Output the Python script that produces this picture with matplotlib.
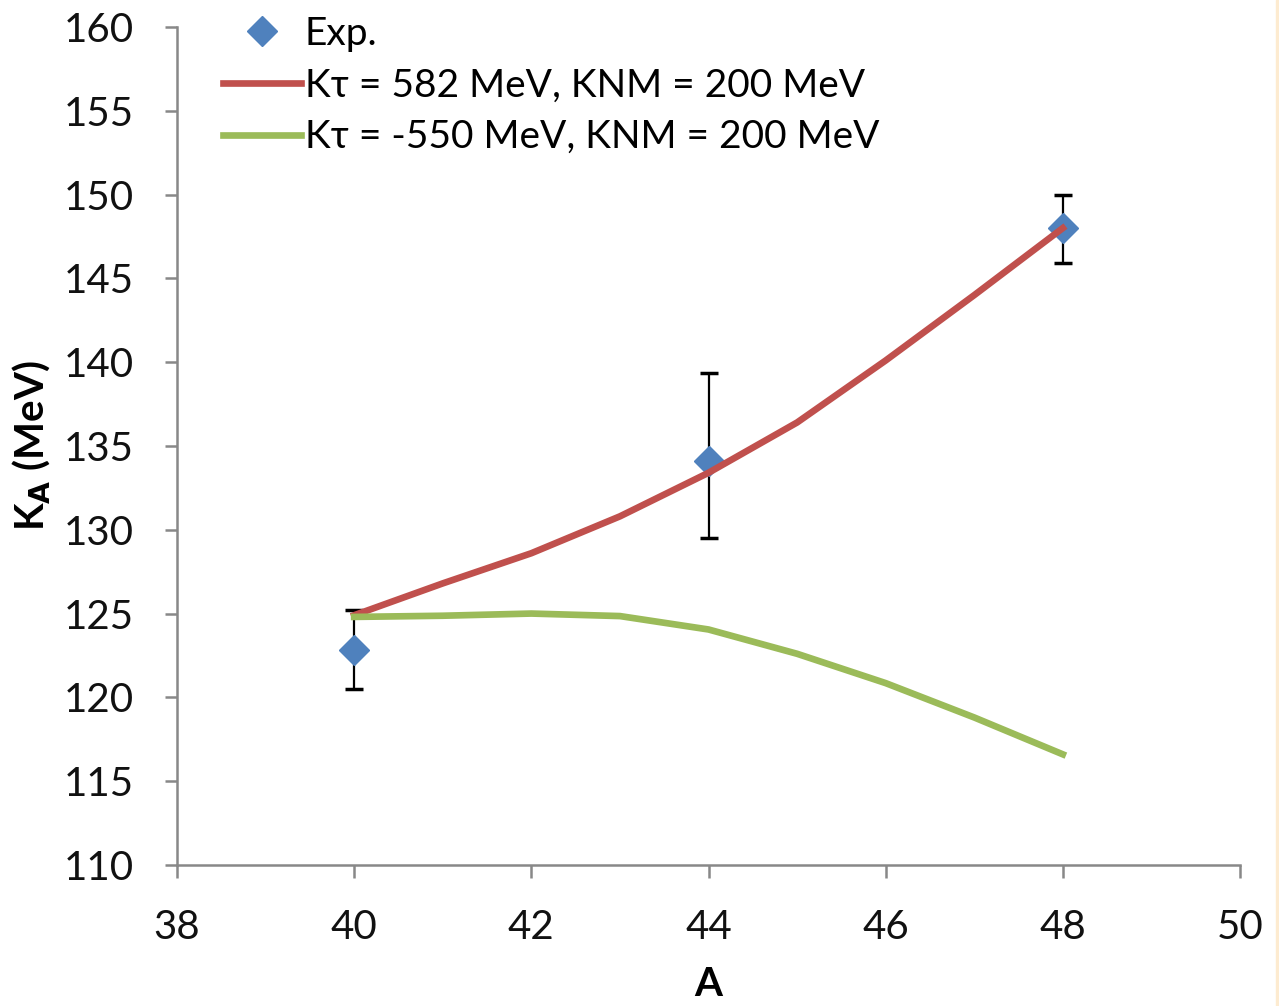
import matplotlib.pyplot as plt
from matplotlib.patches import Rectangle

plt.rcParams['font.family'] = ['Lato', 'DejaVu Sans']

# experimental points
exp_A = [40, 44, 48]
exp_K = [122.8, 134.1, 148.0]
err_lo = [2.3, 4.6, 2.1]
err_hi = [2.4, 5.25, 2.0]

# model curves
model_A = [40, 41, 42, 43, 44, 45, 46, 47, 48]
k_pos = [124.9, 126.8, 128.6, 130.8, 133.4, 136.4, 140.1, 144.0, 148.0]
k_neg = [124.8, 124.87, 125.0, 124.85, 124.05, 122.6, 120.85, 118.8, 116.6]

xticks = [38, 40, 42, 44, 46, 48, 50]
yticks = [110, 115, 120, 125, 130, 135, 140, 145, 150, 155, 160]

fig = plt.figure(figsize=(12.79, 10.06), dpi=100)
ax = fig.add_axes([0.1384, 0.1402, 0.8311, 0.8330])

ax.errorbar(exp_A, exp_K, yerr=[err_lo, err_hi], fmt='none', ecolor='black',
            elinewidth=1.6, capsize=6.5, capthick=2.5, zorder=2)
ax.plot(exp_A, exp_K, 'D', color='#4F81BD', markersize=15, label='Exp.', zorder=3)
ax.plot(model_A, k_pos, color='#C0504D', lw=4.8, label='Kτ = 582 MeV, KNM = 200 MeV', zorder=4)
ax.plot(model_A, k_neg, color='#9BBB59', lw=4.8, label='Kτ = -550 MeV, KNM = 200 MeV', zorder=4)

ax.set_xlim(38, 50)
ax.set_ylim(110, 160)
ax.set_xticks(xticks)
ax.set_yticks(yticks)
for s in ['top', 'right']:
    ax.spines[s].set_visible(False)
for s in ['left', 'bottom']:
    ax.spines[s].set_color('#888888')
    ax.spines[s].set_linewidth(1.8)
ax.tick_params(axis='both', direction='out', length=9, width=1.8, color='#888888',
               labelsize=29, labelcolor='#111111')
ax.tick_params(axis='y', pad=22)
ax.tick_params(axis='x', pad=23)

ax.set_xlabel('A', fontsize=29, fontweight='bold', labelpad=14)
ax.set_ylabel('K$_\\mathbf{A}$ (MeV)', fontsize=29, fontweight='bold', labelpad=8)

ax.legend(loc='upper left', bbox_to_anchor=(0.0433, 1.013), frameon=False, fontsize=28,
          handlelength=2.0, handletextpad=0.1, labelspacing=0.4, borderaxespad=0,
          borderpad=0)

fig.patches.append(Rectangle((0.9975, 0), 0.0025, 1, transform=fig.transFigure,
                             color='#FDEBD0', zorder=0))

fig.savefig('out.png', dpi=100)
